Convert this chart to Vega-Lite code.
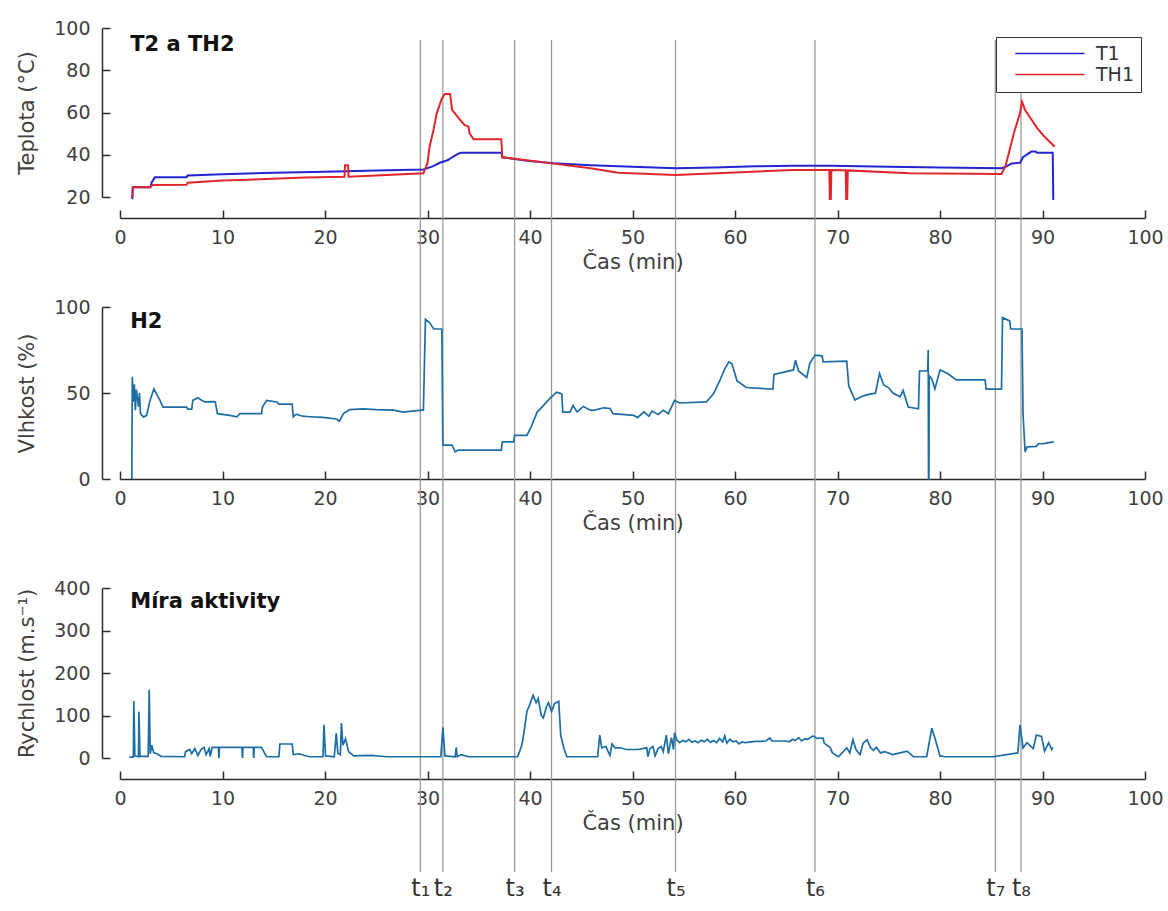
{
  "$schema": "https://vega.github.io/schema/vega-lite/v6.json",
  "width": 1025,
  "height": 832,
  "autosize": {"type": "none"},
  "padding": {"left": 120, "top": 40, "right": 23, "bottom": 39},
  "background": "white",
  "config": {
    "view": {"stroke": null},
    "font": "DejaVu Sans",
    "axis": {
      "labelFont": "DejaVu Sans", "titleFont": "DejaVu Sans",
      "labelFontSize": 19, "titleFontSize": 21, "titleFontWeight": "normal",
      "labelColor": "#404040", "titleColor": "#404040",
      "domainColor": "#2a2a2a", "tickColor": "#2a2a2a",
      "domainWidth": 1.5, "tickWidth": 1.5, "tickSize": -8, "grid": false,
      "labelFlush": false
    }
  },
  "layer": [
    {
      "data": {"values": [
        {"tm": 29.3}, {"tm": 31.5}, {"tm": 38.5}, {"tm": 42.1},
        {"tm": 54.2}, {"tm": 67.8}, {"tm": 85.4}, {"tm": 87.9}
      ]},
      "mark": {"type": "rule", "color": "#9a9a9a", "strokeWidth": 1.3},
      "encoding": {
        "x": {"field": "tm", "type": "quantitative", "scale": {"domain": [0, 100]},
          "axis": {"orient": "bottom", "offset": 0, "domain": false, "ticks": false,
            "values": [29.3, 31.5, 38.5, 42.1, 54.2, 67.8, 85.4, 87.9],
            "labelExpr": "datum.value < 30 ? 't₁' : datum.value < 35 ? 't₂' : datum.value < 40 ? 't₃' : datum.value < 50 ? 't₄' : datum.value < 60 ? 't₅' : datum.value < 80 ? 't₆' : datum.value < 86 ? 't₇' : 't₈'",
            "labelFontSize": 24, "labelPadding": 4, "title": null, "labelColor": "#333"}}
      }
    },
    {
      "layer": [
        {
          "data": {"values": [
            {"t":1.2,"v":19,"s":"T1"},{"t":1.25,"v":24.6,"s":"T1"},{"t":2.95,"v":24.6,"s":"T1"},{"t":3.1,"v":27,"s":"T1"},{"t":3.4,"v":29.3,"s":"T1"},{"t":6.5,"v":29.4,"s":"T1"},{"t":6.6,"v":30.2,"s":"T1"},{"t":10,"v":30.8,"s":"T1"},{"t":15,"v":31.5,"s":"T1"},{"t":20,"v":32,"s":"T1"},{"t":25,"v":32.5,"s":"T1"},{"t":29.6,"v":33,"s":"T1"},{"t":30.5,"v":34.5,"s":"T1"},{"t":31.2,"v":36.2,"s":"T1"},{"t":32.0,"v":37.5,"s":"T1"},{"t":32.4,"v":38.8,"s":"T1"},{"t":33.0,"v":40.5,"s":"T1"},{"t":33.3,"v":41,"s":"T1"},{"t":37.2,"v":41,"s":"T1"},{"t":37.3,"v":38.8,"s":"T1"},{"t":38.5,"v":38,"s":"T1"},{"t":39.7,"v":37.2,"s":"T1"},{"t":42.3,"v":36,"s":"T1"},{"t":45.9,"v":35,"s":"T1"},{"t":50,"v":34.3,"s":"T1"},{"t":54.2,"v":33.6,"s":"T1"},{"t":58,"v":34,"s":"T1"},{"t":62,"v":34.5,"s":"T1"},{"t":65.6,"v":34.8,"s":"T1"},{"t":69.4,"v":34.8,"s":"T1"},{"t":75,"v":34.3,"s":"T1"},{"t":80,"v":34,"s":"T1"},{"t":86.0,"v":33.6,"s":"T1"},{"t":86.5,"v":34.5,"s":"T1"},{"t":87.0,"v":35.9,"s":"T1"},{"t":87.8,"v":36.2,"s":"T1"},{"t":88.1,"v":38.8,"s":"T1"},{"t":88.9,"v":41.5,"s":"T1"},{"t":89.3,"v":41.5,"s":"T1"},{"t":89.5,"v":41,"s":"T1"},{"t":91.0,"v":40.9,"s":"T1"},{"t":91.05,"v":18.6,"s":"T1"},
            {"t":1.2,"v":19.5,"s":"TH1"},{"t":1.25,"v":24.6,"s":"TH1"},{"t":2.95,"v":24.6,"s":"TH1"},{"t":3.2,"v":25.7,"s":"TH1"},{"t":6.5,"v":25.8,"s":"TH1"},{"t":6.6,"v":26.8,"s":"TH1"},{"t":10,"v":27.8,"s":"TH1"},{"t":13.7,"v":28.4,"s":"TH1"},{"t":18,"v":29.2,"s":"TH1"},{"t":21.9,"v":29.6,"s":"TH1"},{"t":21.95,"v":35,"s":"TH1"},{"t":22.25,"v":35,"s":"TH1"},{"t":22.3,"v":29.6,"s":"TH1"},{"t":25,"v":30.2,"s":"TH1"},{"t":29.6,"v":31.2,"s":"TH1"},{"t":30.0,"v":36,"s":"TH1"},{"t":30.2,"v":43.8,"s":"TH1"},{"t":30.6,"v":52,"s":"TH1"},{"t":30.9,"v":59.6,"s":"TH1"},{"t":31.4,"v":66.7,"s":"TH1"},{"t":31.7,"v":68.8,"s":"TH1"},{"t":32.2,"v":68.8,"s":"TH1"},{"t":32.4,"v":61.2,"s":"TH1"},{"t":33.2,"v":56.4,"s":"TH1"},{"t":33.6,"v":54.1,"s":"TH1"},{"t":34.0,"v":53.3,"s":"TH1"},{"t":34.1,"v":50.2,"s":"TH1"},{"t":34.5,"v":47.3,"s":"TH1"},{"t":37.2,"v":47.3,"s":"TH1"},{"t":37.3,"v":38.8,"s":"TH1"},{"t":39.7,"v":37.4,"s":"TH1"},{"t":42.3,"v":35.8,"s":"TH1"},{"t":45.9,"v":33.6,"s":"TH1"},{"t":48.6,"v":31.5,"s":"TH1"},{"t":54.2,"v":30.4,"s":"TH1"},{"t":60,"v":31.6,"s":"TH1"},{"t":65.6,"v":32.8,"s":"TH1"},{"t":69.2,"v":32.8,"s":"TH1"},{"t":69.25,"v":19,"s":"TH1"},{"t":69.35,"v":19,"s":"TH1"},{"t":69.4,"v":32.8,"s":"TH1"},{"t":70.8,"v":32.7,"s":"TH1"},{"t":70.85,"v":19,"s":"TH1"},{"t":70.95,"v":19,"s":"TH1"},{"t":71.0,"v":32.6,"s":"TH1"},{"t":77,"v":31.2,"s":"TH1"},{"t":86.0,"v":30.9,"s":"TH1"},{"t":86.4,"v":34.8,"s":"TH1"},{"t":87.2,"v":50.1,"s":"TH1"},{"t":87.8,"v":59.6,"s":"TH1"},{"t":88.0,"v":65.1,"s":"TH1"},{"t":88.3,"v":61.2,"s":"TH1"},{"t":89.5,"v":52.5,"s":"TH1"},{"t":90.2,"v":48.5,"s":"TH1"},{"t":91.2,"v":43.8,"s":"TH1"}
          ]},
          "mark": {"type": "line", "strokeWidth": 2},
          "encoding": {
            "x": {"field": "t", "type": "quantitative", "scale": {"domain": [0, 100]},
              "axis": {"orient": "bottom", "offset": -654, "values": [0,10,20,30,40,50,60,70,80,90,100], "title": "Čas (min)", "labelPadding": 18, "titlePadding": 4}},
            "y": {"field": "v", "type": "quantitative", "scale": {"domain": [20, 100], "range": [157, -12]},
              "axis": {"orient": "left", "offset": 18, "values": [20,40,60,80,100], "title": "Teplota (°C)", "labelPadding": 20, "titlePadding": 16}},
            "color": {"field": "s", "type": "nominal",
              "scale": {"domain": ["T1", "TH1"], "range": ["#2424d0", "#e0262b"]},
              "legend": {"orient": "none", "legendX": 876, "legendY": -3, "title": null,
                "strokeColor": "#333", "fillColor": "white", "padding": 7,
                "symbolType": "M0.4,0H10.3", "symbolSize": 196, "symbolStrokeWidth": 1.6,
                "symbolFillColor": "transparent",
                "labelOffset": 74, "labelFontSize": 19, "labelFont": "DejaVu Sans", "labelColor": "#333", "rowPadding": 1}}
          }
        },
        {
          "data": {"values": [{"t": 1.0, "v": 92, "label": "T2 a TH2"}]},
          "mark": {"type": "text", "align": "left", "baseline": "middle", "fontWeight": "bold", "fontSize": 21, "font": "DejaVu Sans", "color": "#111"},
          "encoding": {
            "x": {"field": "t", "type": "quantitative"},
            "y": {"field": "v", "type": "quantitative"},
            "text": {"field": "label"}
          }
        }
      ]
    },
    {
      "layer": [
        {
          "data": {"values": [
            {"t":1.15,"v":0},{"t":1.2,"v":59.5},{"t":1.3,"v":45},{"t":1.4,"v":55},{"t":1.5,"v":40},{"t":1.6,"v":52},{"t":1.8,"v":42},{"t":1.9,"v":50},{"t":2.0,"v":38},{"t":2.3,"v":36},{"t":2.6,"v":37},{"t":2.9,"v":45},{"t":3.3,"v":52.4},{"t":3.6,"v":49},{"t":3.9,"v":45.7},{"t":4.2,"v":41.8},{"t":6.5,"v":41.8},{"t":6.6,"v":40.6},{"t":7.0,"v":40.6},{"t":7.1,"v":45.7},{"t":7.6,"v":47.2},{"t":8.0,"v":45.7},{"t":8.3,"v":44.8},{"t":9.0,"v":45},{"t":9.3,"v":44.8},{"t":9.5,"v":38},{"t":10.7,"v":37},{"t":11.4,"v":36.2},{"t":11.7,"v":38},{"t":13.8,"v":38},{"t":13.9,"v":41.8},{"t":14.3,"v":45.7},{"t":15.3,"v":44.8},{"t":15.5,"v":43.5},{"t":16.8,"v":43.5},{"t":16.9,"v":36.2},{"t":17.2,"v":37.7},{"t":17.8,"v":36.5},{"t":18.5,"v":36.2},{"t":19.8,"v":35.8},{"t":21.1,"v":34.9},{"t":21.4,"v":33.6},{"t":21.8,"v":38},{"t":22.4,"v":40.3},{"t":23.7,"v":40.8},{"t":25,"v":40.3},{"t":26.7,"v":40},{"t":27.6,"v":38.9},{"t":29.4,"v":40},{"t":29.6,"v":40},{"t":29.8,"v":92.9},{"t":30.2,"v":91},{"t":30.6,"v":87.2},{"t":31.4,"v":87.2},{"t":31.5,"v":19.7},{"t":32.4,"v":19.7},{"t":32.7,"v":15.8},{"t":33.0,"v":16.8},{"t":37.2,"v":16.8},{"t":37.3,"v":21.6},{"t":38.4,"v":21.6},{"t":38.5,"v":25.4},{"t":39.7,"v":25.4},{"t":40.1,"v":30.2},{"t":40.7,"v":38.9},{"t":41.3,"v":42.7},{"t":41.9,"v":46.6},{"t":42.6,"v":50.5},{"t":43.1,"v":49.5},{"t":43.2,"v":38.9},{"t":43.9,"v":38.9},{"t":44.2,"v":42.7},{"t":44.6,"v":39},{"t":45.2,"v":42.2},{"t":45.9,"v":40},{"t":46.2,"v":39.9},{"t":47.2,"v":41.4},{"t":47.8,"v":41},{"t":48.1,"v":38},{"t":50.1,"v":37},{"t":50.5,"v":35.7},{"t":51.1,"v":39},{"t":51.6,"v":36.5},{"t":51.9,"v":39.5},{"t":52.5,"v":37.5},{"t":53.0,"v":40},{"t":53.5,"v":38},{"t":54.1,"v":45.7},{"t":54.6,"v":44.2},{"t":57.2,"v":44.8},{"t":57.9,"v":49.5},{"t":58.5,"v":57},{"t":59.0,"v":64},{"t":59.4,"v":68.1},{"t":59.7,"v":67},{"t":60.2,"v":57},{"t":61.1,"v":53.2},{"t":63.7,"v":52.2},{"t":63.8,"v":60.8},{"t":65.7,"v":63.4},{"t":65.9,"v":69.1},{"t":66.2,"v":62.8},{"t":67.0,"v":59},{"t":67.3,"v":67.2},{"t":67.8,"v":72},{"t":68.5,"v":71.6},{"t":68.6,"v":68.1},{"t":70.9,"v":68.5},{"t":71.1,"v":54.1},{"t":71.7,"v":45.9},{"t":72.2,"v":47.5},{"t":72.8,"v":48.9},{"t":73.7,"v":49.9},{"t":74.1,"v":61.4},{"t":74.5,"v":54.7},{"t":75.0,"v":53},{"t":75.4,"v":50},{"t":76.1,"v":47.8},{"t":76.4,"v":51.5},{"t":76.9,"v":41.8},{"t":77.9,"v":40.8},{"t":78.0,"v":62.8},{"t":78.8,"v":62.8},{"t":78.85,"v":75},{"t":78.88,"v":0},{"t":78.92,"v":0},{"t":78.95,"v":60},{"t":79.2,"v":58.2},{"t":79.5,"v":52.4},{"t":80.0,"v":63.4},{"t":80.7,"v":61.5},{"t":81.6,"v":57.6},{"t":84.4,"v":57.6},{"t":84.5,"v":52.2},{"t":86.0,"v":52.2},{"t":86.1,"v":93.8},{"t":86.8,"v":91.9},{"t":86.9,"v":87.2},{"t":88.0,"v":87.2},{"t":88.1,"v":38},{"t":88.3,"v":15.8},{"t":88.5,"v":18.7},{"t":89.4,"v":19},{"t":89.6,"v":20.5},{"t":90.1,"v":20.6},{"t":90.5,"v":21},{"t":91.1,"v":21.6}
          ]},
          "mark": {"type": "line", "strokeWidth": 1.7, "color": "#1c6ea4"},
          "encoding": {
            "x": {"field": "t", "type": "quantitative", "scale": {"domain": [0, 100]},
              "axis": {"orient": "bottom", "offset": -393, "values": [0,10,20,30,40,50,60,70,80,90,100], "title": "Čas (min)", "labelPadding": 18, "titlePadding": 4}},
            "y": {"field": "v", "type": "quantitative", "scale": {"domain": [0, 100], "range": [439, 267]},
              "axis": {"orient": "left", "offset": 18, "values": [0,50,100], "title": "Vlhkost (%)", "labelPadding": 20, "titlePadding": 16}}
          }
        },
        {
          "data": {"values": [{"t": 1.0, "v": 91.3, "label": "H2"}]},
          "mark": {"type": "text", "align": "left", "baseline": "middle", "fontWeight": "bold", "fontSize": 21, "font": "DejaVu Sans", "color": "#111"},
          "encoding": {
            "x": {"field": "t", "type": "quantitative"},
            "y": {"field": "v", "type": "quantitative"},
            "text": {"field": "label"}
          }
        }
      ]
    },
    {
      "layer": [
        {
          "data": {"values": [
            {"t":0.9,"v":2},{"t":1.3,"v":2},{"t":1.35,"v":134},{"t":1.45,"v":5},{"t":1.8,"v":3},{"t":1.85,"v":109},{"t":1.95,"v":4},{"t":2.75,"v":4},{"t":2.85,"v":161},{"t":2.95,"v":10},{"t":3.1,"v":30},{"t":3.3,"v":12},{"t":3.6,"v":10},{"t":4.0,"v":4},{"t":6.3,"v":3},{"t":6.4,"v":15},{"t":6.8,"v":20},{"t":7.0,"v":10},{"t":7.3,"v":22},{"t":7.6,"v":6},{"t":7.9,"v":20},{"t":8.2,"v":25},{"t":8.4,"v":8},{"t":8.7,"v":22},{"t":8.8,"v":4},{"t":9.0,"v":25},{"t":9.6,"v":25},{"t":9.65,"v":0},{"t":9.7,"v":25},{"t":11.9,"v":25},{"t":11.95,"v":0},{"t":12.0,"v":25},{"t":13.0,"v":25},{"t":13.05,"v":0},{"t":13.1,"v":25},{"t":13.8,"v":25},{"t":14.3,"v":3},{"t":15.5,"v":3},{"t":15.6,"v":33},{"t":16.8,"v":33},{"t":16.9,"v":8},{"t":17.5,"v":10},{"t":18.0,"v":6},{"t":18.5,"v":3},{"t":19.8,"v":3},{"t":19.9,"v":78},{"t":20.05,"v":5},{"t":20.9,"v":3},{"t":21.1,"v":58},{"t":21.25,"v":12},{"t":21.5,"v":8},{"t":21.6,"v":82},{"t":21.75,"v":30},{"t":22.0,"v":45},{"t":22.3,"v":15},{"t":22.8,"v":5},{"t":24.5,"v":6},{"t":26,"v":3},{"t":29,"v":3},{"t":31.3,"v":3},{"t":31.5,"v":72},{"t":31.7,"v":5},{"t":32.7,"v":3},{"t":32.8,"v":25},{"t":32.9,"v":3},{"t":33.3,"v":8},{"t":34,"v":3},{"t":38.8,"v":3},{"t":39.2,"v":30},{"t":39.4,"v":58},{"t":39.7,"v":110},{"t":39.9,"v":121},{"t":40.3,"v":148},{"t":40.6,"v":130},{"t":40.8,"v":140},{"t":41.1,"v":100},{"t":41.3,"v":94},{"t":41.6,"v":120},{"t":41.8,"v":130},{"t":42.1,"v":110},{"t":42.4,"v":128},{"t":42.8,"v":133},{"t":43.0,"v":53},{"t":43.3,"v":23},{"t":43.6,"v":3},{"t":46.6,"v":3},{"t":46.8,"v":54},{"t":47.0,"v":24},{"t":47.4,"v":27},{"t":47.8,"v":6},{"t":48.0,"v":33},{"t":48.3,"v":24},{"t":48.8,"v":24},{"t":49.4,"v":20},{"t":50.5,"v":20},{"t":51.0,"v":22},{"t":51.4,"v":24},{"t":51.5,"v":3},{"t":51.7,"v":22},{"t":52.0,"v":27},{"t":52.2,"v":5},{"t":52.5,"v":22},{"t":52.8,"v":27},{"t":53.0,"v":15},{"t":53.3,"v":54},{"t":53.5,"v":10},{"t":53.8,"v":48},{"t":54.0,"v":20},{"t":54.1,"v":59},{"t":54.3,"v":43},{"t":54.6,"v":36},{"t":54.9,"v":41},{"t":55.2,"v":38},{"t":55.5,"v":44},{"t":55.8,"v":37},{"t":56.1,"v":40},{"t":56.4,"v":36},{"t":56.7,"v":42},{"t":57.0,"v":38},{"t":57.3,"v":44},{"t":57.6,"v":37},{"t":57.9,"v":41},{"t":58.2,"v":36},{"t":58.5,"v":46},{"t":58.8,"v":38},{"t":59.0,"v":52},{"t":59.2,"v":35},{"t":59.5,"v":44},{"t":59.8,"v":38},{"t":60.1,"v":40},{"t":60.4,"v":33},{"t":60.7,"v":38},{"t":61.0,"v":36},{"t":61.6,"v":38},{"t":62.0,"v":39},{"t":62.5,"v":39},{"t":63.0,"v":40},{"t":63.4,"v":47},{"t":63.6,"v":40},{"t":64.5,"v":40},{"t":65.0,"v":40},{"t":65.3,"v":38},{"t":65.6,"v":44},{"t":65.9,"v":41},{"t":66.2,"v":48},{"t":66.5,"v":40},{"t":66.8,"v":45},{"t":67.1,"v":44},{"t":67.6,"v":52},{"t":68.0,"v":46},{"t":68.6,"v":47},{"t":68.7,"v":35},{"t":69.3,"v":24},{"t":69.5,"v":12},{"t":70.1,"v":3},{"t":70.9,"v":24},{"t":71.2,"v":12},{"t":71.5,"v":43},{"t":71.8,"v":20},{"t":72.2,"v":8},{"t":72.5,"v":35},{"t":72.9,"v":43},{"t":73.2,"v":25},{"t":73.5,"v":18},{"t":73.8,"v":25},{"t":74.2,"v":12},{"t":74.6,"v":15},{"t":75.4,"v":8},{"t":76.1,"v":12},{"t":76.8,"v":16},{"t":77.4,"v":3},{"t":78.7,"v":3},{"t":79.2,"v":70},{"t":79.5,"v":47},{"t":80,"v":5},{"t":80.5,"v":3},{"t":85.2,"v":3},{"t":86.5,"v":8},{"t":87.6,"v":12},{"t":87.8,"v":78},{"t":88.1,"v":24},{"t":88.5,"v":36},{"t":89.1,"v":22},{"t":89.4,"v":54},{"t":89.9,"v":51},{"t":90.2,"v":16},{"t":90.6,"v":36},{"t":90.9,"v":20},{"t":91.0,"v":25}
          ]},
          "mark": {"type": "line", "strokeWidth": 1.7, "color": "#1c6ea4"},
          "encoding": {
            "x": {"field": "t", "type": "quantitative", "scale": {"domain": [0, 100]},
              "axis": {"orient": "bottom", "offset": -93, "values": [0,10,20,30,40,50,60,70,80,90,100], "title": "Čas (min)", "labelPadding": 18, "titlePadding": 4}},
            "y": {"field": "v", "type": "quantitative", "scale": {"domain": [0, 400], "range": [718, 548]},
              "axis": {"orient": "left", "offset": 18, "values": [0,100,200,300,400], "title": "Rychlost (m.s⁻¹)", "labelPadding": 20, "titlePadding": 16}}
          }
        },
        {
          "data": {"values": [{"t": 1.0, "v": 367, "label": "Míra aktivity"}]},
          "mark": {"type": "text", "align": "left", "baseline": "middle", "fontWeight": "bold", "fontSize": 21, "font": "DejaVu Sans", "color": "#111"},
          "encoding": {
            "x": {"field": "t", "type": "quantitative"},
            "y": {"field": "v", "type": "quantitative"},
            "text": {"field": "label"}
          }
        }
      ]
    }
  ],
  "resolve": {"scale": {"x": "independent", "y": "independent", "color": "independent"}}
}
